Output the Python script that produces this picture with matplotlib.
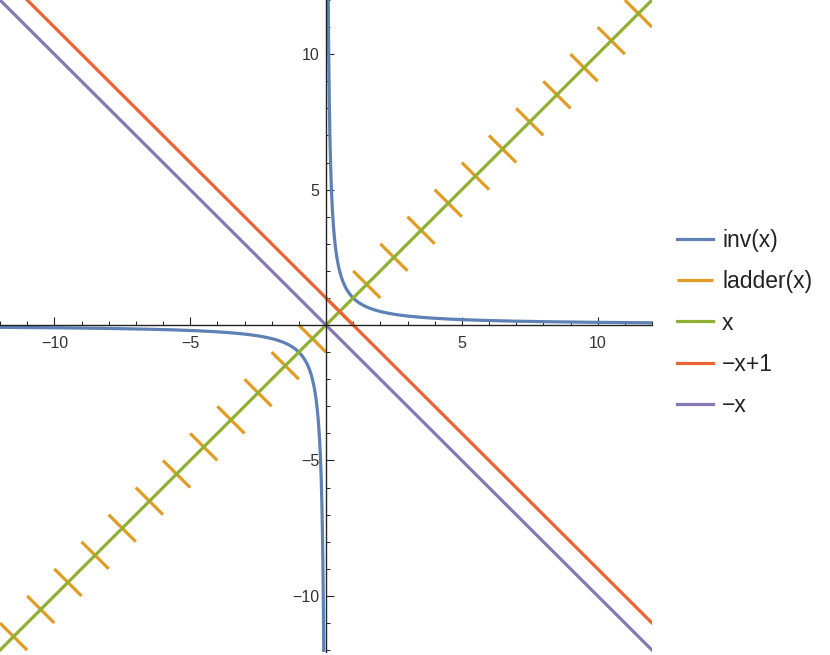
import numpy as np
import matplotlib
matplotlib.use('Agg')
import matplotlib.pyplot as plt
from matplotlib.ticker import MultipleLocator

plt.rcParams['font.family'] = ['Liberation Sans', 'DejaVu Sans']

# plot range and functions shown
x_range = [-12, 12]
y_range = [-12, 12]
labels = ['inv(x)', 'ladder(x)', 'x', '\u2212x+1', '\u2212x']
colors = ['#5E81B5', '#E19C24', '#8FB032', '#EB6235', '#8778B3']
# ladder steps: on [n, n+1) the value runs from n+1 down to n
ladder_starts = list(range(-12, 12))

fig = plt.figure(figsize=(8.3, 6.55), dpi=100)
ax = fig.add_axes([0, 3 / 655, 652 / 830, 652 / 655])
lw = 2.3

# inv(x)
xl = np.linspace(-12, -0.05, 2000)
xr = np.linspace(0.05, 12, 2000)
ax.plot(xl, 1 / xl, color=colors[0], lw=lw, label=labels[0])
ax.plot(xr, 1 / xr, color=colors[0], lw=lw)

# ladder(x)
for i, n in enumerate(ladder_starts):
    ax.plot([n, n + 1], [n + 1, n], color=colors[1], lw=lw,
            label=labels[1] if i == 0 else None, solid_capstyle='butt')

xs = np.array(x_range)
ax.plot(xs, xs, color=colors[2], lw=lw, label=labels[2])
ax.plot(xs, -xs + 1, color=colors[3], lw=lw, label=labels[3])
ax.plot(xs, -xs, color=colors[4], lw=lw, label=labels[4])

ax.set_xlim(x_range)
ax.set_ylim(-12.07, 12)

# axes through origin
for s in ['top', 'right']:
    ax.spines[s].set_visible(False)
ax.spines['left'].set_position(('data', 0))
ax.spines['bottom'].set_position(('data', 0))
ax.spines['left'].set_color('#222222')
ax.spines['bottom'].set_color('#222222')
ax.spines['left'].set_linewidth(1.0)
ax.spines['bottom'].set_linewidth(1.0)

ax.xaxis.set_minor_locator(MultipleLocator(1))
ax.yaxis.set_minor_locator(MultipleLocator(1))
ax.set_xticks([-10, -5, 5, 10])
ax.set_yticks([-10, -5, 5, 10])
ax.set_xticklabels(['\u221210', '\u22125', '5', '10'])
ax.set_yticklabels(['\u221210', '\u22125', '5', '10'])
ax.tick_params(axis='x', which='major', direction='in', length=5.5, width=0.8,
               pad=8, labelsize=11.5, colors='#222222', labelcolor='#333333')
ax.tick_params(axis='y', which='major', direction='in', length=5.5, width=0.8,
               pad=5, labelsize=11.5, colors='#222222', labelcolor='#333333')
ax.tick_params(which='minor', direction='in', length=3, width=0.7, colors='#222222')

leg = fig.legend(loc='center left', bbox_to_anchor=(677 / 830, 1 - 323 / 655),
                 frameon=False, fontsize=16.5, handlelength=1.55,
                 labelspacing=0.8, handletextpad=0.42,
                 borderpad=0, borderaxespad=0)
for t in leg.get_texts():
    t.set_color('#222222')

fig.savefig('out.png', dpi=100)
